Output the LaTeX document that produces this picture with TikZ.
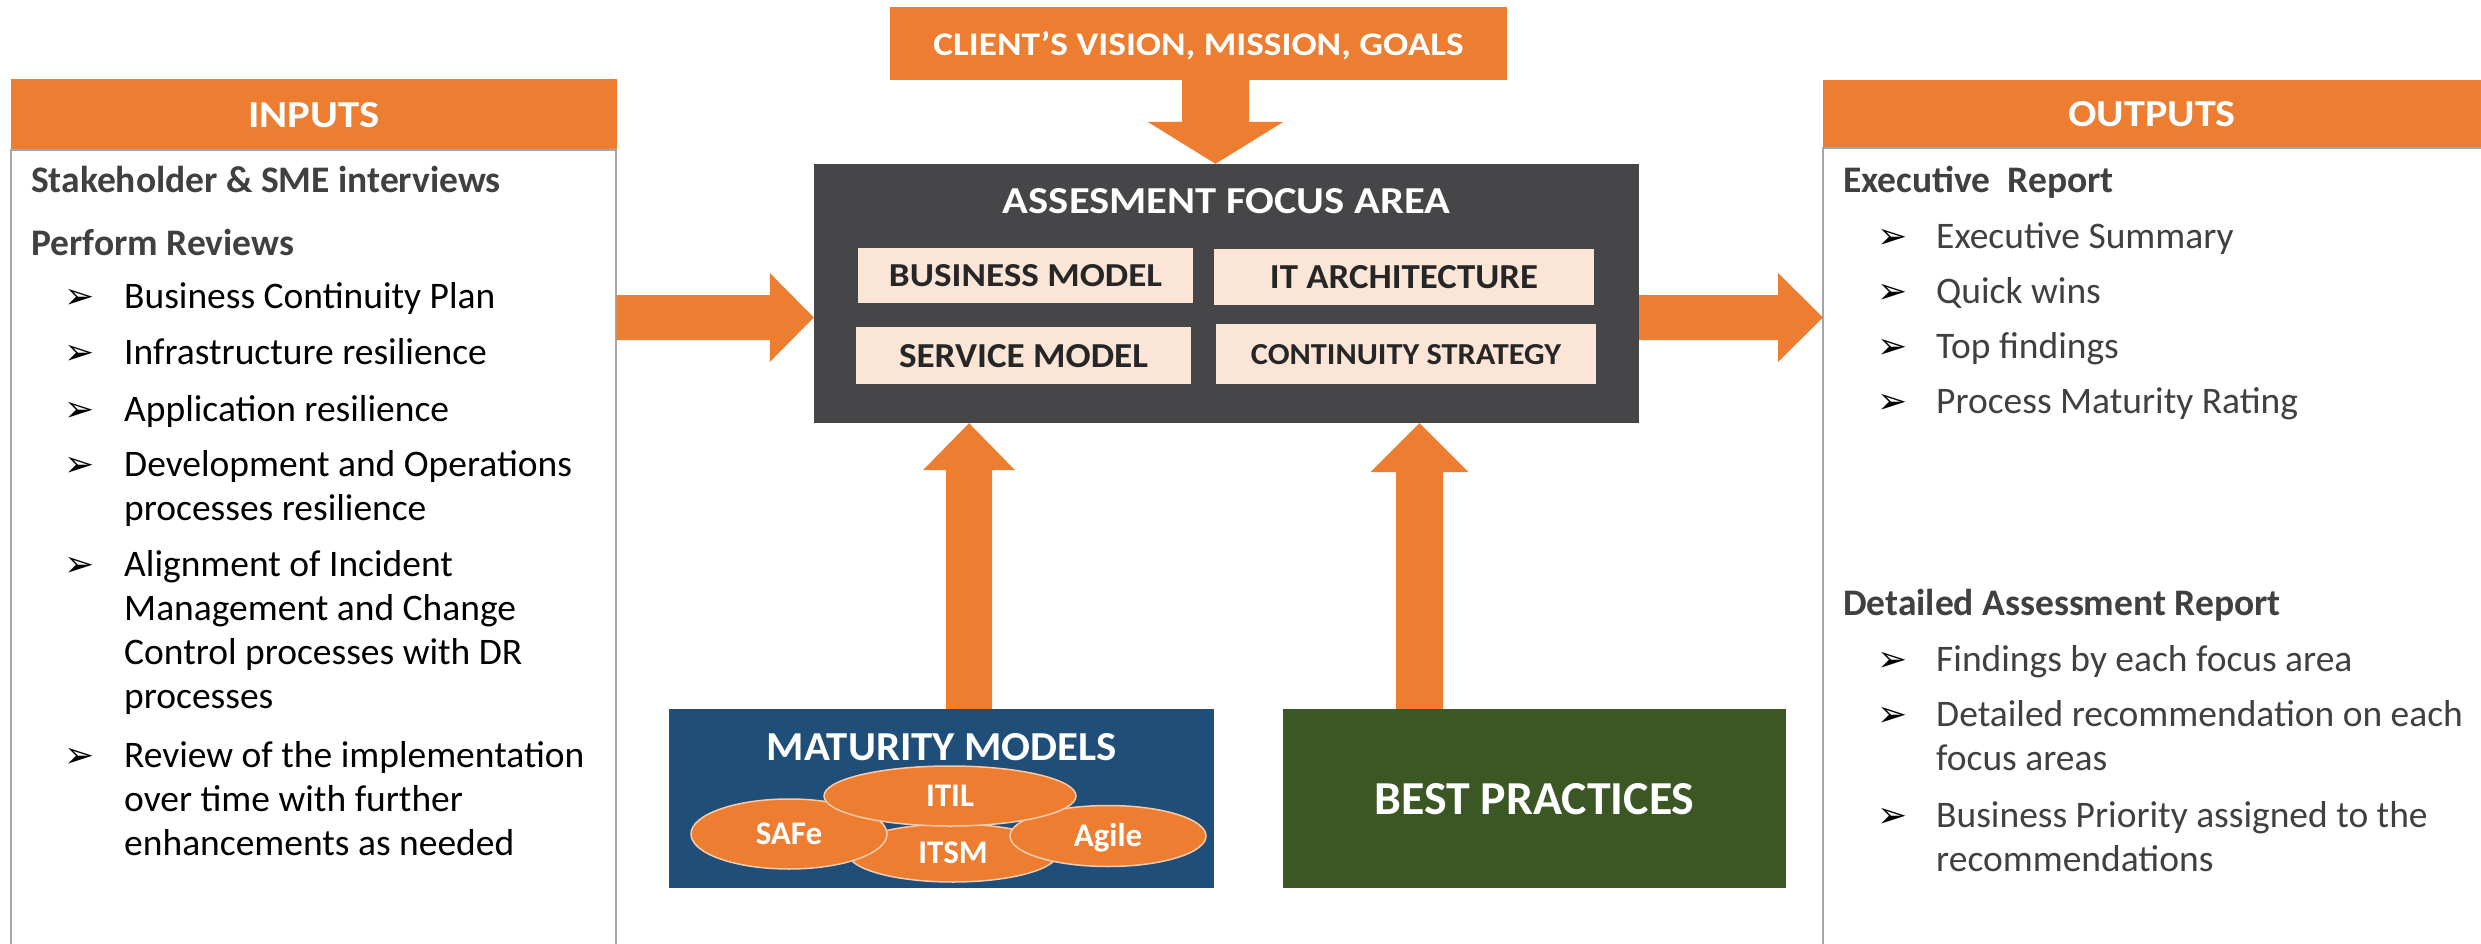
\documentclass[tikz,border=0pt]{standalone}
\usepackage{fontspec}
\usepackage{graphicx}
\setmainfont{Carlito}
\newfontfamily\dvfont{DejaVu Sans}
\usetikzlibrary{calc,shapes.geometric}
\definecolor{orng}{HTML}{ED7D31}
\definecolor{darkbox}{HTML}{464648}
\definecolor{peach}{HTML}{FBE5D6}
\definecolor{mmblue}{HTML}{1F4E79}
\definecolor{bpgreen}{HTML}{3A5724}
\definecolor{bordergrey}{HTML}{A6A6A6}
\definecolor{txtgrey}{HTML}{404040}
\definecolor{innertxt}{HTML}{262626}
\definecolor{ellline}{HTML}{F8CBAD}
\newcommand{\sq}[3]{\resizebox{#1pt}{#2pt}{#3}}
\newcommand{\bodyfont}{\fontsize{37.5pt}{44pt}\selectfont}
\newcommand{\bulfont}{\dvfont\fontsize{36pt}{38pt}\selectfont}
\newcommand{\ellfont}{\bfseries\fontsize{33pt}{36pt}\selectfont}
\newcommand{\bitem}[6]{%
  \node[bul] (#1b) at (#2,#4) {➢};
  \node[bodytxt, text=#5] (#1) at (#3,#4) {\parbox[t]{700pt}{#6}};
}
\newcommand{\blockarrow}[5]{%
  \coordinate (hb) at ($(#2)!#5pt!(#1)$);
  \fill[orng] ($(#1)!#3pt!90:(#2)$) -- ($(hb)!#3pt!-90:(#1)$) -- ($(hb)!#4pt!-90:(#1)$) -- (#2)
    -- ($(hb)!#4pt!90:(#1)$) -- ($(hb)!#3pt!90:(#1)$) -- ($(#1)!#3pt!-90:(#2)$) -- cycle;
}
\begin{document}
\begin{tikzpicture}[x=1pt,y=-1pt,
  hdr/.style={fill=orng, text=white, font=\bfseries, inner sep=0pt, text depth=0pt},
  fbox/.style={fill=peach, text=innertxt, font=\bfseries, inner sep=0pt, text depth=0pt},
  panel/.style={inner sep=0pt, draw=none},
  border/.style={draw=bordergrey, line width=2pt},
  bodytxt/.style={font=\bodyfont, inner sep=0pt, anchor=base west},
  bodyhead/.style={bodytxt, font=\bodyfont\bfseries, text=txtgrey},
  bul/.style={font=\bulfont, inner sep=0pt, anchor=base west, text=black},
  mmell/.style={ellipse, fill=orng, draw=ellline, line width=1.5pt, text=white, font=\ellfont, inner sep=0pt, text height=21pt, text depth=0pt}
]
\useasboundingbox (0,0) rectangle (2481,944);
\fill[white] (0,0) rectangle (2481,944);

% ---------- INPUTS ----------
\node[hdr, minimum width=606pt, minimum height=71pt] (inhdr) at (314,114.5) {\sq{131}{25}{INPUTS}};
\node[panel, minimum width=605pt, minimum height=794pt, anchor=north west] (inbox) at (11,150) {};
\draw[border] (inbox.south west) -- (inbox.north west) -- (inbox.north east) -- (inbox.south east);

\node[bodyhead] (inh1) at (31,193) {Stakeholder \& SME interviews};
\node[bodyhead] (inh2) at (31,255) {Perform Reviews};
\bitem{in1}{64}{124}{308}{black}{Business Continuity Plan}
\bitem{in2}{64}{124}{364}{black}{Infrastructure resilience}
\bitem{in3}{64}{124}{421}{black}{Application resilience}
\bitem{in4}{64}{124}{476}{black}{Development and Operations\\processes resilience}
\bitem{in5}{64}{124}{576}{black}{Alignment of Incident\\Management and Change\\Control processes with DR\\processes}
\bitem{in6}{64}{124}{767}{black}{Review of the implementation\\over time with further\\enhancements as needed}

% ---------- OUTPUTS ----------
\node[hdr, minimum width=658pt, minimum height=68pt] (outhdr) at (2152,114) {\sq{167}{25}{OUTPUTS}};
\node[panel, minimum width=658pt, minimum height=796pt, anchor=north west] (outbox) at (1823,148) {};
\draw[border] (outbox.south west) -- (outbox.north west) -- (outbox.north east);

\node[bodyhead] (outh1) at (1843,193) {Executive\ \ Report};
\bitem{out1}{1877}{1936}{248}{txtgrey}{Executive Summary}
\bitem{out2}{1877}{1936}{303}{txtgrey}{Quick wins}
\bitem{out3}{1877}{1936}{358}{txtgrey}{Top findings}
\bitem{out4}{1877}{1936}{413}{txtgrey}{Process Maturity Rating}
\node[bodyhead] (outh2) at (1843,615) {Detailed Assessment Report};
\bitem{out5}{1877}{1936}{671}{txtgrey}{Findings by each focus area}
\bitem{out6}{1877}{1936}{726}{txtgrey}{Detailed recommendation on each\\focus areas}
\bitem{out7}{1877}{1936}{827}{txtgrey}{Business Priority assigned to the\\recommendations}

% ---------- CENTER ----------
\node[hdr, minimum width=617pt, minimum height=73pt] (client) at (1198.5,43.5) {\sq{530}{24}{CLIENT’S VISION, MISSION, GOALS}};
\node[fill=darkbox, inner sep=0pt, minimum width=825pt, minimum height=259pt] (focus) at (1226.5,293.5) {};
\node[text=white, font=\bfseries, inner sep=0pt, text depth=0pt] (focustitle) at (1226.5,200.5) {\sq{447}{25}{ASSESMENT FOCUS AREA}};
\node[fbox, minimum width=335pt, minimum height=55pt] (bm) at (1025.5,275.5) {\sq{273}{22}{BUSINESS MODEL}};
\node[fbox, minimum width=380pt, minimum height=56pt] (it) at (1404,277) {\sq{268}{23}{IT ARCHITECTURE}};
\node[fbox, minimum width=335pt, minimum height=57pt] (sm) at (1023.5,355.5) {\sq{249}{23}{SERVICE MODEL}};
\node[fbox, minimum width=380pt, minimum height=60pt] (cs) at (1406,354) {\sq{310}{20}{CONTINUITY STRATEGY}};

\node[fill=mmblue, inner sep=0pt, minimum width=545pt, minimum height=179pt] (mm) at (941.5,798.5) {};
\node[text=white, font=\bfseries, inner sep=0pt, text depth=0pt] (mmtitle) at (942,746.5) {\sq{350}{27}{MATURITY MODELS}};
\node[mmell, minimum width=210pt, minimum height=58pt] (itsm) at (953,853) {ITSM};
\node[mmell, minimum width=196pt, minimum height=70pt] (safe) at (789,834) {SAFe};
\node[mmell, minimum width=196pt, minimum height=61pt] (agile) at (1108,836) {Agile};
\node[mmell, minimum width=252pt, minimum height=60pt] (itil) at (950,796) {ITIL};

\node[fill=bpgreen, text=white, font=\bfseries, inner sep=0pt, text depth=0pt, minimum width=503pt, minimum height=179pt] (bp) at (1534.5,798.5) {\sq{320}{31}{BEST PRACTICES}};

% ---------- ARROWS ----------
\coordinate (ar1s) at (inbox.east |- 0,317.5);
\coordinate (ar1e) at (focus.west |- ar1s);
\blockarrow{ar1s}{ar1e}{22.5}{44.5}{44}
\coordinate (ar2s) at (focus.east |- 0,317.5);
\coordinate (ar2e) at (outbox.west |- ar2s);
\blockarrow{ar2s}{ar2e}{22.5}{44.5}{45}
\coordinate (ar3s) at (client.south -| 1215.5,0);
\coordinate (ar3e) at (focus.north -| ar3s);
\blockarrow{ar3s}{ar3e}{33.5}{68}{42}
\coordinate (ar4s) at (mm.north -| 969,0);
\coordinate (ar4e) at (focus.south -| ar4s);
\blockarrow{ar4s}{ar4e}{23}{46}{47}
\coordinate (ar5s) at (bp.north -| 1419.5,0);
\coordinate (ar5e) at (focus.south -| ar5s);
\blockarrow{ar5s}{ar5e}{23.5}{49}{49}
\end{tikzpicture}
\end{document}
